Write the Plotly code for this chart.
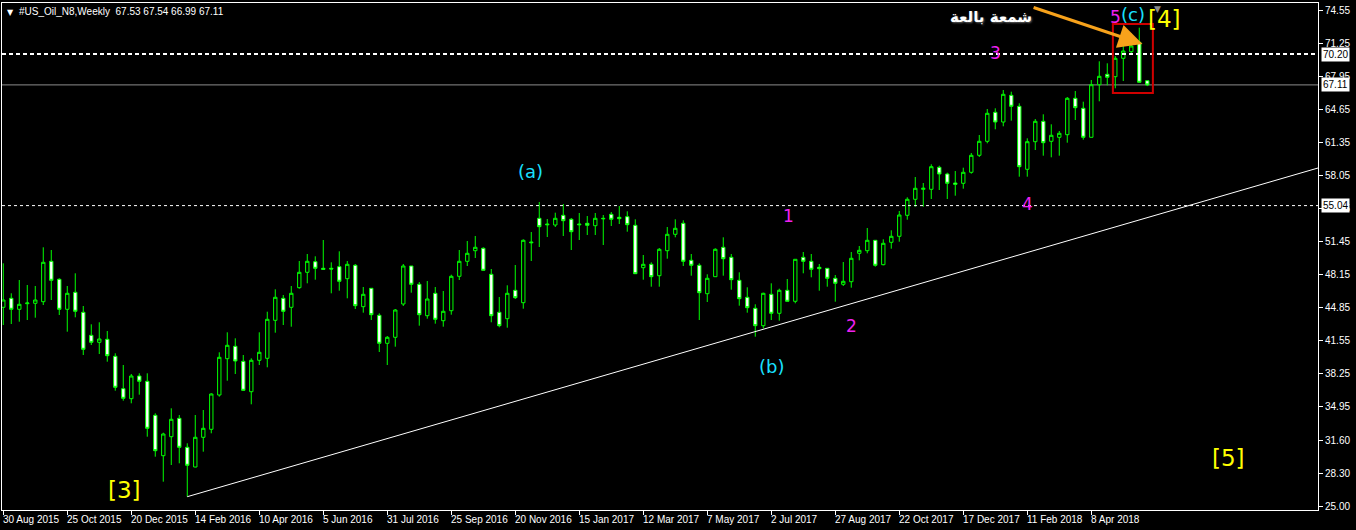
import plotly.graph_objects as go

# ---------------- data (weekly bars, index 0 = week of 30 Aug 2015) ----------------
opens = [44.87, 45.77, 44.67, 45.23, 45.27, 45.43, 49.47, 47.67, 44.67, 46.37,
         44.37, 42.07, 41.37, 41.67, 39.97, 36.73, 35.73, 38.00, 37.47, 34.07,
         30.03, 31.93, 33.77, 30.87, 28.90, 31.87, 32.67, 36.10, 39.73, 40.97,
         39.47, 36.43, 39.57, 39.77, 43.57, 45.77, 44.87, 46.83, 48.37, 49.43,
         48.77, 48.77, 48.93, 47.73, 49.07, 44.93, 46.77, 44.07, 41.27, 41.87,
         45.20, 49.00, 47.17, 44.03, 46.27, 43.53, 44.53, 47.97, 49.47, 50.53,
         50.77, 48.17, 44.37, 43.73, 46.57, 45.33, 51.40, 53.77, 53.20, 53.10,
         54.07, 53.67, 53.20, 53.27, 53.03, 53.77, 54.17, 53.87, 53.93, 53.07,
         48.83, 49.17, 48.03, 50.53, 52.17, 53.27, 49.57, 49.07, 46.23, 47.93,
         50.87, 49.87, 47.57, 45.87, 44.77, 43.03, 46.17, 44.27, 46.57, 45.47,
         49.87, 49.47, 48.87, 48.77, 47.77, 47.17, 47.43, 50.27, 50.53, 51.57,
         49.13, 51.37, 51.97, 54.07, 55.67, 56.67, 56.67, 58.87, 58.20, 57.30,
         57.27, 58.37, 60.07, 61.47, 64.37, 63.40, 66.07, 64.97, 58.67, 61.43,
         63.47, 61.47, 61.87, 62.13, 65.77, 64.77, 61.87, 67.13, 68.17, 67.93,
         69.77, 70.43, 71.37, 67.53]
highs = [49.27, 46.27, 47.60, 47.10, 47.00, 50.87, 50.60, 47.77, 47.00, 48.27,
         45.00, 43.17, 43.37, 42.50, 40.27, 39.10, 38.20, 38.27, 38.27, 34.27,
         32.33, 34.77, 34.10, 31.27, 34.10, 34.60, 36.27, 40.37, 42.37, 41.77,
         40.10, 39.77, 42.37, 44.43, 46.67, 46.10, 47.00, 49.50, 50.20, 49.97,
         51.60, 49.37, 50.47, 49.50, 49.20, 46.90, 46.80, 44.27, 42.00, 44.70,
         49.20, 49.00, 47.40, 47.50, 46.90, 46.50, 48.13, 50.60, 51.50, 52.00,
         50.87, 48.70, 45.90, 47.07, 49.10, 51.67, 52.40, 55.40, 53.70, 54.33,
         55.20, 53.80, 54.30, 54.00, 54.30, 54.10, 54.40, 55.00, 54.47, 53.67,
         50.10, 49.37, 50.80, 52.90, 53.67, 53.57, 50.20, 49.27, 48.17, 50.77,
         51.87, 50.20, 48.37, 46.87, 45.17, 46.33, 47.27, 46.73, 47.70, 49.67,
         50.40, 50.20, 49.20, 48.77, 48.10, 49.40, 50.40, 51.00, 52.80, 51.57,
         51.67, 52.57, 54.50, 55.87, 57.90, 57.30, 59.17, 59.03, 58.33, 58.50,
         58.83, 60.30, 62.10, 64.70, 64.77, 66.60, 66.43, 65.27, 61.77, 63.70,
         64.17, 63.17, 62.50, 65.90, 66.50, 65.43, 67.60, 69.47, 69.27, 70.00,
         71.40, 72.27, 72.83, 67.54]
lows = [43.10, 43.20, 43.43, 43.60, 43.83, 45.10, 45.60, 44.10, 42.43, 43.87,
        40.10, 41.10, 40.20, 39.43, 36.53, 35.53, 35.27, 36.13, 31.93, 29.93,
        27.43, 29.10, 29.27, 25.93, 28.87, 30.43, 32.27, 35.93, 37.53, 38.20,
        36.53, 35.17, 39.10, 38.87, 42.33, 43.10, 42.93, 46.73, 47.27, 47.63,
        48.60, 46.27, 46.53, 45.77, 44.70, 44.33, 43.60, 40.40, 39.10, 40.93,
        45.00, 46.33, 43.03, 43.73, 43.23, 42.93, 44.13, 47.60, 49.00, 49.80,
        48.57, 43.37, 42.87, 42.83, 45.70, 44.73, 49.50, 50.90, 51.90, 52.90,
        52.00, 50.60, 51.60, 52.10, 52.10, 51.10, 53.00, 53.20, 52.43, 48.23,
        47.63, 46.93, 46.93, 49.73, 51.87, 49.00, 48.03, 43.60, 45.40, 47.93,
        48.03, 46.63, 45.03, 44.33, 41.93, 42.77, 43.60, 43.53, 45.47, 45.27,
        48.27, 47.87, 46.53, 46.93, 45.43, 47.00, 46.83, 49.57, 50.27, 48.93,
        49.07, 50.73, 51.43, 53.63, 54.93, 54.93, 55.70, 56.60, 55.70, 56.03,
        56.73, 58.23, 59.90, 61.27, 62.67, 62.97, 63.53, 57.93, 57.93, 60.60,
        60.03, 59.87, 60.03, 61.33, 63.60, 61.63, 61.87, 65.47, 67.07, 66.77,
        67.50, 70.10, 67.37, 66.99]
closes = [45.60, 44.67, 45.17, 45.30, 45.60, 49.37, 47.57, 44.67, 46.27, 44.47,
          40.67, 41.37, 41.70, 40.03, 36.87, 35.77, 38.00, 37.47, 32.77, 30.53,
          32.20, 33.67, 30.87, 29.07, 31.87, 32.77, 36.20, 39.87, 41.07, 39.50,
          36.57, 39.57, 40.37, 43.67, 45.87, 44.47, 46.27, 48.37, 49.47, 48.77,
          48.67, 48.70, 47.47, 49.17, 45.03, 46.17, 44.13, 41.27, 41.87, 44.60,
          49.00, 47.17, 44.13, 45.70, 43.67, 44.47, 47.97, 49.47, 50.27, 50.87,
          48.57, 44.03, 43.03, 46.27, 45.83, 51.57, 51.33, 52.93, 53.13, 53.77,
          53.53, 52.43, 53.13, 53.07, 53.77, 53.73, 53.67, 53.73, 53.13, 48.23,
          49.17, 47.93, 50.67, 52.17, 52.77, 49.47, 49.07, 46.33, 47.77, 50.67,
          49.73, 47.63, 45.73, 44.83, 43.03, 46.27, 44.27, 46.57, 45.47, 49.67,
          49.47, 48.67, 48.73, 47.77, 47.27, 47.47, 49.77, 50.57, 51.57, 49.07,
          51.27, 51.97, 54.10, 55.67, 56.77, 56.77, 58.93, 58.20, 57.27, 57.17,
          58.37, 60.07, 61.47, 64.27, 63.40, 66.17, 64.97, 58.93, 61.43, 63.47,
          61.33, 62.07, 62.27, 65.77, 64.83, 61.87, 67.13, 67.97, 67.87, 69.77,
          70.50, 71.00, 67.37, 67.11]

x_tick_bars = [0, 8, 16, 24, 32, 40, 48, 56, 64, 72, 80, 88, 96, 104, 112, 120, 128, 136]
x_tick_labels = ["30 Aug 2015", "25 Oct 2015", "20 Dec 2015", "14 Feb 2016", "10 Apr 2016",
                 "5 Jun 2016", "31 Jul 2016", "25 Sep 2016", "20 Nov 2016", "15 Jan 2017",
                 "12 Mar 2017", "7 May 2017", "2 Jul 2017", "27 Aug 2017", "22 Oct 2017",
                 "17 Dec 2017", "11 Feb 2018", "8 Apr 2018"]
y_tick_vals = [74.55, 71.25, 67.95, 64.65, 61.35, 58.05, 54.75, 51.45, 48.15,
               44.85, 41.55, 38.25, 34.95, 31.60, 28.30, 25.00]
y_tick_labels = ["74.55", "71.25", "67.95", "64.65", "61.35", "58.05", "54.75", "51.45",
                 "48.15", "44.85", "41.55", "38.25", "34.95", "31.60", "28.30", "25.00"]

title_text = "#US_Oil_N8,Weekly  67.53 67.54 66.99 67.11"
level_upper = 70.20
level_lower = 55.04
last_price = 67.11

trend_bars = [23, 164.34]
trend_prices = [25.93, 58.80]

wave_labels = ["(a)", "(b)", "(c)", "[3]", "[4]", "[5]", "1", "2", "3", "4", "5"]
wave_bars = [65.85, 96.0, 141.2, 15.1, 145.1, 153.1, 98.1, 106.0, 124.0, 128.0, 139.0]
wave_prices = [58.5, 39.0, 74.2, 26.6, 73.7, 29.8, 54.0, 43.0, 70.3, 55.2, 73.9]
wave_kind = ["minor", "minor", "minor", "major", "major", "major",
             "sub", "sub", "sub", "sub", "sub"]

note_text = "شمعة بالعة"
note_bar, note_price = 123.5, 73.9
arrow_from = (128.6, 74.9)
arrow_to = (142.4, 71.2)
box_bars = [138.7, 143.7]
box_prices = [66.3, 73.2]

# ---------------- figure ----------------
x_idx = list(range(len(opens)))
GREEN = "#00FF00"
FONT = "Liberation Sans"

fig = go.Figure()
fig.add_trace(go.Candlestick(
    x=x_idx, open=opens, high=highs, low=lows, close=closes,
    increasing=dict(line=dict(color=GREEN, width=1), fillcolor="#000000"),
    decreasing=dict(line=dict(color=GREEN, width=1), fillcolor="#FFFFFF"),
    whiskerwidth=0, hoverinfo="skip", showlegend=False,
))

shapes = [
    dict(type="line", xref="paper", x0=0, x1=1, yref="y", y0=last_price, y1=last_price,
         line=dict(color="#8C8C8C", width=1), layer="below"),
    dict(type="line", xref="paper", x0=0, x1=1, yref="y", y0=level_upper, y1=level_upper,
         line=dict(color="#FFFFFF", width=2, dash="4px,3px")),
    dict(type="line", xref="paper", x0=0, x1=1, yref="y", y0=level_lower, y1=level_lower,
         line=dict(color="#FFFFFF", width=1, dash="3px,3px")),
    dict(type="line", xref="x", yref="y", x0=trend_bars[0], x1=trend_bars[1],
         y0=trend_prices[0], y1=trend_prices[1], line=dict(color="#FFFFFF", width=1)),
    dict(type="rect", xref="x", yref="y", x0=box_bars[0], x1=box_bars[1],
         y0=box_prices[0], y1=box_prices[1], line=dict(color="#D00000", width=2)),
]

annotations = []
# x tick labels (left-aligned at tick, MetaTrader style)
for b, t in zip(x_tick_bars, x_tick_labels):
    annotations.append(dict(x=b, y=0, xref="x", yref="paper", text=t, showarrow=False,
                            xanchor="left", yanchor="top", xshift=-2, yshift=-2,
                            font=dict(family=FONT, size=10, color="#FFFFFF")))
# title
annotations.append(dict(x=0, y=1, xref="paper", yref="paper", text="▼", showarrow=False,
                        xanchor="left", yanchor="top", xshift=3, yshift=-3,
                        font=dict(family="DejaVu Sans", size=8, color="#FFFFFF")))
annotations.append(dict(x=0, y=1, xref="paper", yref="paper", text=title_text, showarrow=False,
                        xanchor="left", yanchor="top", xshift=15, yshift=-1,
                        font=dict(family=FONT, size=10, color="#FFFFFF")))
# price boxes on right axis
for v in (level_upper, last_price, level_lower):
    annotations.append(dict(x=1, y=v, xref="paper", yref="y", text=f"{v:.2f}",
                            showarrow=False, xanchor="left", yanchor="middle", xshift=3,
                            bgcolor="#FFFFFF", borderpad=1,
                            font=dict(family=FONT, size=10, color="#000000")))
# chart shift marker
annotations.append(dict(x=144.3, y=1, xref="x", yref="paper", text="▼", showarrow=False,
                        xanchor="center", yanchor="top", yshift=1,
                        font=dict(family="DejaVu Sans", size=9, color="#8C8C8C")))
# wave labels
style = {
    "minor": dict(color="#19E0FF", size=18),
    "major": dict(color="#FFFF00", size=23),
    "sub": dict(color="#F020F0", size=17),
}
for t, b, p, k in zip(wave_labels, wave_bars, wave_prices, wave_kind):
    annotations.append(dict(x=b, y=p, xref="x", yref="y", text=t, showarrow=False,
                            xanchor="center", yanchor="middle",
                            font=dict(family="DejaVu Sans", size=style[k]["size"],
                                      color=style[k]["color"])))
# arabic note + arrow
annotations.append(dict(x=note_bar, y=note_price, xref="x", yref="y",
                        text="<b>" + note_text + "</b>", showarrow=False,
                        xanchor="center", yanchor="middle",
                        font=dict(family="DejaVu Sans", size=15, color="#FFFFFF",
                                  shadow="1px 1px 2px #666666")))
annotations.append(dict(x=arrow_to[0], y=arrow_to[1], ax=arrow_from[0], ay=arrow_from[1],
                        xref="x", yref="y", axref="x", ayref="y", text="",
                        showarrow=True, arrowhead=2, arrowsize=1.6, arrowwidth=3,
                        arrowcolor="#F7A21B"))

fig.update_layout(
    width=1356, height=530,
    margin=dict(l=2, r=38, t=3, b=20),
    paper_bgcolor="#000000", plot_bgcolor="#000000",
    showlegend=False, hovermode=False,
    boxgap=0.4,
    shapes=shapes, annotations=annotations,
    xaxis=dict(range=[-0.16, 164.34], rangeslider=dict(visible=False),
               showgrid=False, zeroline=False, showline=True, mirror=True,
               linecolor="#FFFFFF", linewidth=1,
               tickmode="array", tickvals=x_tick_bars, showticklabels=False,
               ticks="outside", ticklen=4, tickcolor="#FFFFFF", tickwidth=1),
    yaxis=dict(range=[24.6, 75.3], side="right", showgrid=False, zeroline=False,
               showline=True, mirror=True, linecolor="#FFFFFF", linewidth=1,
               tickmode="array", tickvals=y_tick_vals, ticktext=y_tick_labels,
               ticks="outside", ticklen=4, tickcolor="#FFFFFF", tickwidth=1,
               tickfont=dict(family=FONT, size=10, color="#FFFFFF")),
)

fig.write_html(
    "out.html",
    config={"displayModeBar": False, "staticPlot": True},
    post_script="document.body.style.margin='0';document.body.style.padding='0';"
                "document.body.style.background='#000';document.body.style.overflow='hidden';",
)
